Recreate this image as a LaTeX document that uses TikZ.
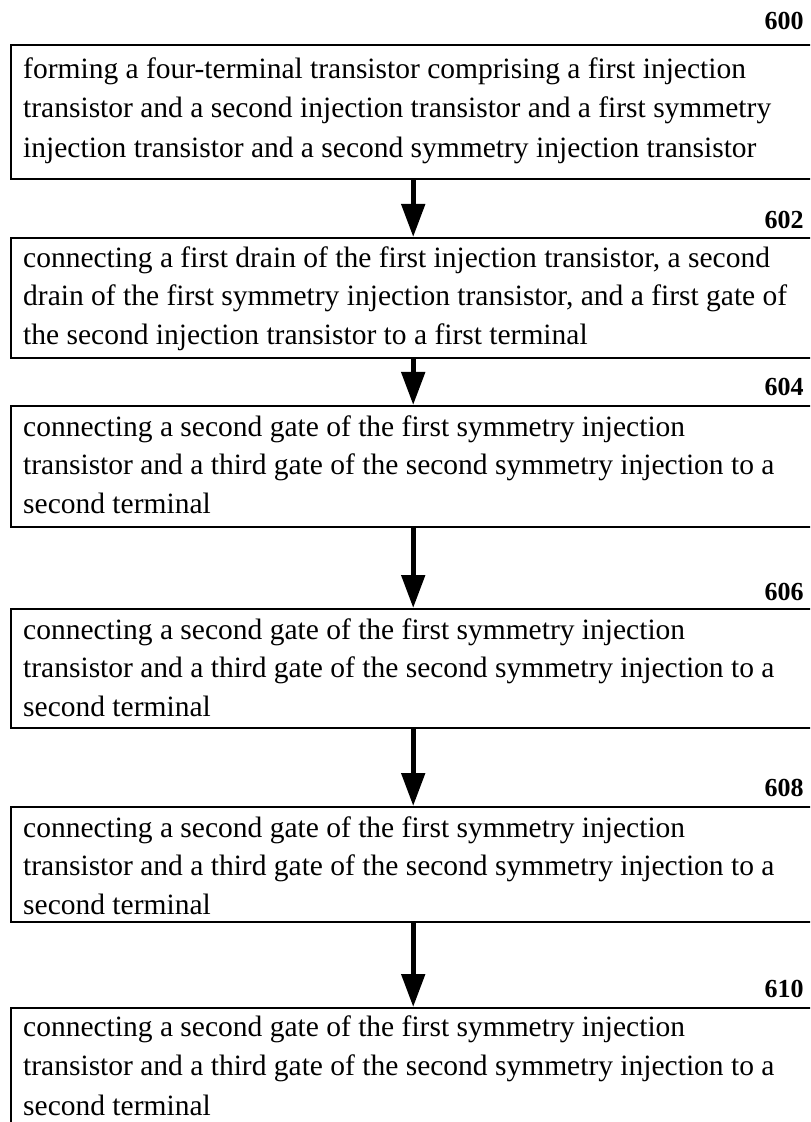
\documentclass[tikz,border=0pt]{standalone}
\usepackage{fontspec}
\setmainfont{Liberation Serif}
\usetikzlibrary{arrows.meta}

% drawing unit: one grid step = 0.5pt
\newlength\pxu
\setlength\pxu{0.5pt}

% box body: [#1 line spacing] #2 box height, #3 first-baseline depth, #4 lines
\newcommand\steptext[4][19.25pt]{%
  \parbox[c][#2\pxu][t]{780\pxu}{\raggedright
    \fontsize{14.75pt}{#1}\selectfont
    \rule{0pt}{#3\pxu}#4}}

\tikzset{
  stepbox/.style={draw, line width=1.2pt, rectangle, inner xsep=6pt, inner ysep=0pt,
    anchor=north west, minimum width=798\pxu},
  steplabel/.style={font=\fontsize{13pt}{15pt}\selectfont\bfseries, inner sep=0pt,
    anchor=base east},
  flowarrow/.style={line width=2.5pt, -{Triangle[length=16.5pt,width=11.5pt]}}
}

\begin{document}
\begin{tikzpicture}[x=0.5pt, y=-0.5pt]
  \useasboundingbox (0,0) rectangle (810,1122);
  \clip (0,0) rectangle (810,1122);

  % reference numerals
  \node[steplabel] (l600) at (804,30)   {600};
  \node[steplabel] (l602) at (804,229)  {602};
  \node[steplabel] (l604) at (804,395)  {604};
  \node[steplabel] (l606) at (804,600)  {606};
  \node[steplabel] (l608) at (804,796)  {608};
  \node[steplabel] (l610) at (804,997)  {610};

  % process steps
  \node[stepbox] (b600) at (10,44) {\steptext[19.75pt]{134}{33}{%
    forming a four-terminal transistor comprising a first injection\\
    transistor and a second injection transistor and a first symmetry\\
    injection transistor and a second symmetry injection transistor}};

  \node[stepbox] (b602) at (10,237) {\steptext{120}{29}{%
    connecting a first drain of the first injection transistor, a second\\
    drain of the first symmetry injection transistor, and a first gate of\\
    the second injection transistor to a first terminal}};

  \node[stepbox] (b604) at (10,405) {\steptext{121}{30}{%
    connecting a second gate of the first symmetry injection\\
    transistor and a third gate of the second symmetry injection to a\\
    second terminal}};

  \node[stepbox] (b606) at (10,608) {\steptext{119}{30}{%
    connecting a second gate of the first symmetry injection\\
    transistor and a third gate of the second symmetry injection to a\\
    second terminal}};

  \node[stepbox] (b608) at (10,806) {\steptext{115}{30}{%
    connecting a second gate of the first symmetry injection\\
    transistor and a third gate of the second symmetry injection to a\\
    second terminal}};

  \node[stepbox] (b610) at (10,1007) {\steptext[19.75pt]{130}{28}{%
    connecting a second gate of the first symmetry injection\\
    transistor and a third gate of the second symmetry injection to a\\
    second terminal}};

  % flow arrows
  \draw[flowarrow] (b600) -- (b602);
  \draw[flowarrow] (b602) -- (b604);
  \draw[flowarrow] (b604) -- (b606);
  \draw[flowarrow] (b606) -- (b608);
  \draw[flowarrow] (b608) -- (b610);
\end{tikzpicture}
\end{document}
